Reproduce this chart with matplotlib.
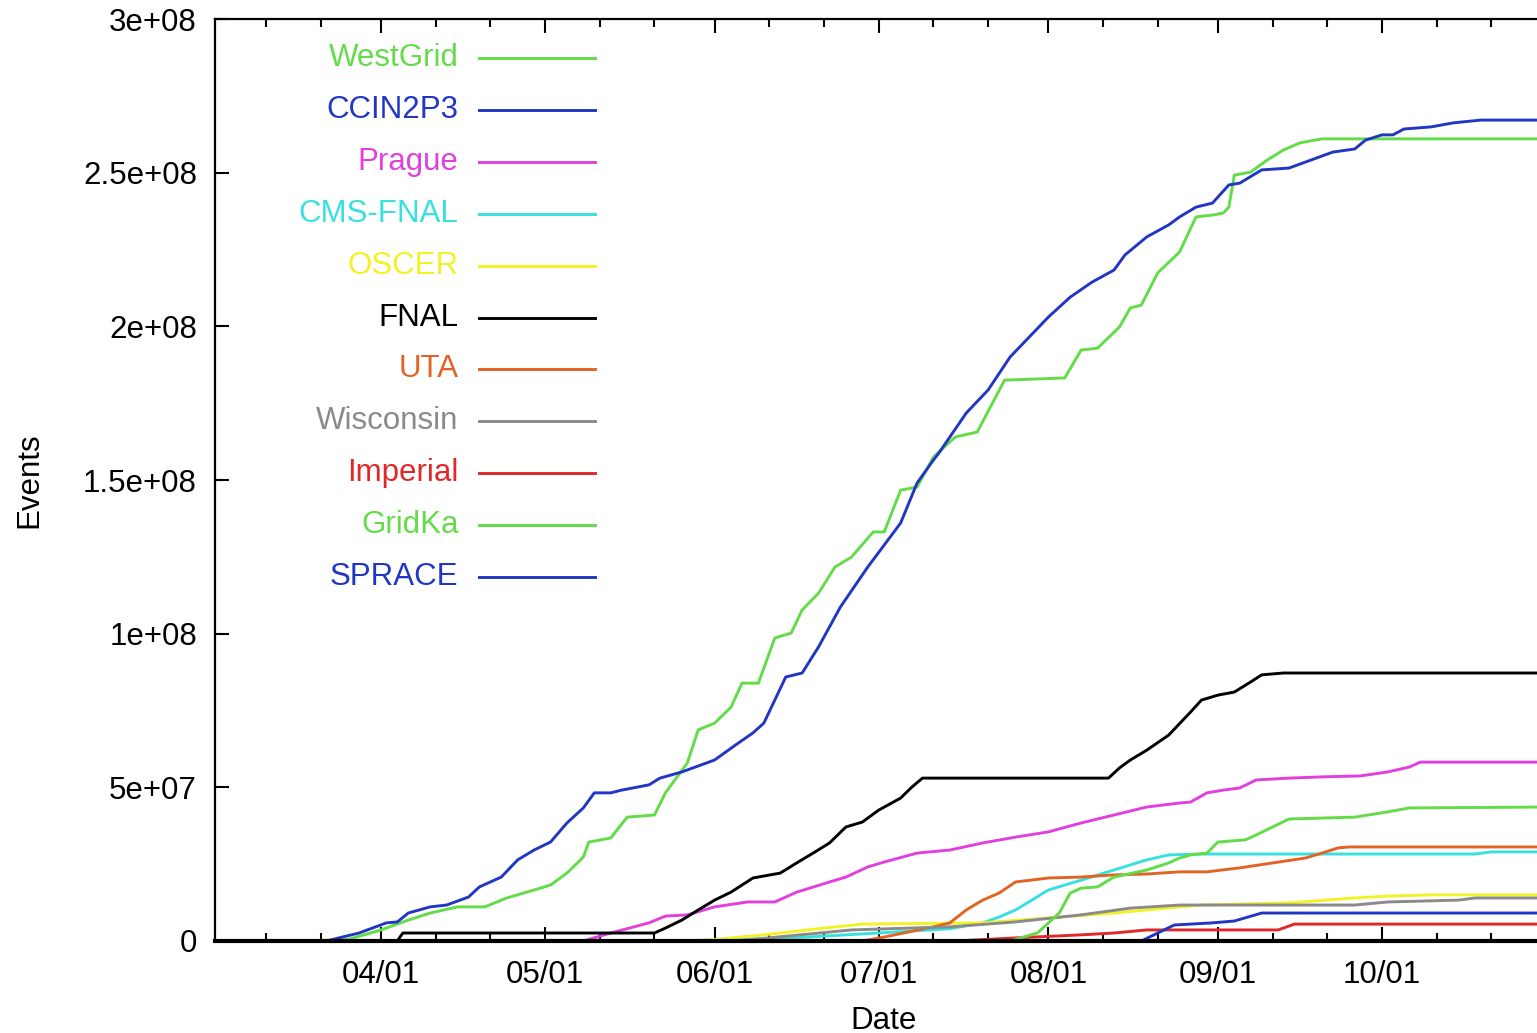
import matplotlib
matplotlib.use('Agg')
import matplotlib.pyplot as plt
import matplotlib.dates as mdates
import matplotlib.ticker as mticker
import numpy as np
import pandas as pd

plt.rcParams['font.family'] = ['Liberation Sans', 'DejaVu Sans']

# Cumulative events per site, in millions (year assumed 2007)
westgrid_dates = ['03-22', '03-26', '04-01', '04-06', '04-10', '04-15', '04-20', '04-24', '04-29',
                  '05-02', '05-05', '05-08', '05-09', '05-13', '05-16', '05-21', '05-23', '05-27',
                  '05-29', '06-01', '06-04', '06-06', '06-09', '06-12', '06-15', '06-17', '06-20',
                  '06-23', '06-26', '06-30', '07-02', '07-05', '07-08', '07-11', '07-15', '07-19',
                  '07-24', '08-04', '08-07', '08-10', '08-14', '08-16', '08-18', '08-21', '08-25',
                  '08-28', '08-31', '09-02', '09-03', '09-04', '09-07', '09-10', '09-13', '09-16',
                  '09-20', '11-01']
westgrid_vals = [0, 0.5, 3.6, 6.8, 9.1, 11.1, 11.1, 14.0, 16.6,
                 18.2, 22.1, 27.3, 32.2, 33.5, 40.3, 41.0, 48.2, 57.9,
                 68.7, 70.9, 76.1, 83.9, 83.9, 98.6, 100.2, 107.7, 113.2,
                 121.7, 124.9, 133.1, 133.1, 146.7, 147.7, 157.5, 164.0, 165.6,
                 182.5, 183.2, 192.3, 192.9, 199.8, 206.0, 206.9, 217.4, 224.2,
                 235.6, 236.2, 236.9, 238.8, 249.2, 250.2, 254.1, 257.4, 259.7,
                 261.0, 261.0]

ccin2p3_dates = ['03-22', '03-28', '04-02', '04-04', '04-06', '04-10', '04-13', '04-17', '04-19',
                 '04-23', '04-26', '04-29', '05-02', '05-05', '05-08', '05-10', '05-13', '05-15',
                 '05-20', '05-22', '05-26', '06-01', '06-05', '06-08', '06-10', '06-14', '06-17',
                 '06-20', '06-24', '06-29', '07-05', '07-08', '07-11', '07-12', '07-17', '07-21',
                 '07-25', '08-01', '08-05', '08-09', '08-13', '08-15', '08-19', '08-23', '08-25',
                 '08-28', '08-31', '09-03', '09-05', '09-09', '09-14', '09-18', '09-22', '09-26',
                 '09-28', '10-01', '10-03', '10-05', '10-10', '10-14', '10-19', '11-01']
ccin2p3_vals = [0, 2.6, 5.9, 6.2, 9.1, 11.1, 11.7, 14.3, 17.6,
                20.8, 26.4, 29.6, 32.2, 38.4, 43.3, 48.2, 48.2, 49.1,
                50.8, 53.0, 55.0, 58.9, 64.0, 67.7, 70.9, 85.9, 87.2,
                95.7, 108.7, 121.7, 136.0, 149.0, 156.5, 158.8, 171.8, 179.3,
                190.0, 203.0, 209.5, 214.4, 218.3, 223.2, 229.1, 233.0, 235.6,
                238.8, 240.1, 246.0, 246.6, 250.9, 251.5, 254.1, 256.7, 257.7,
                260.6, 262.3, 262.3, 264.2, 264.9, 266.2, 267.1, 267.1]

prague_dates = ['03-22', '05-08', '05-13', '05-20', '05-23', '05-27', '06-01', '06-07', '06-12',
                '06-16', '06-22', '06-25', '06-29', '07-02', '07-08', '07-14', '07-20', '07-26',
                '08-01', '08-07', '08-13', '08-19', '08-25', '08-27', '08-30', '09-02', '09-05',
                '09-08', '09-14', '09-20', '09-27', '10-02', '10-06', '10-08', '11-01']
prague_vals = [0, 0, 2.6, 5.9, 8.1, 8.5, 11.1, 12.7, 12.7,
               15.9, 19.2, 20.8, 24.1, 25.7, 28.6, 29.6, 31.9, 33.8,
               35.5, 38.4, 41.0, 43.6, 44.9, 45.2, 48.2, 49.1, 49.8,
               52.4, 53.0, 53.4, 53.7, 55.0, 56.6, 58.2, 58.2]

cmsfnal_dates = ['03-22', '05-25', '06-15', '07-01', '07-14', '07-20', '07-23', '07-26', '07-29',
                 '08-01', '08-04', '08-07', '08-13', '08-19', '08-23', '08-29', '10-18', '10-21',
                 '11-01']
cmsfnal_vals = [0, 0, 1.0, 2.6, 4.0, 5.9, 7.8, 10.1, 13.3,
                16.6, 18.2, 19.8, 23.1, 26.4, 28.0, 28.3, 28.3, 29.0,
                29.0]

oscer_dates = ['03-22', '05-29', '06-10', '06-20', '06-28', '07-20', '08-01', '08-13', '08-25',
               '08-29', '09-14', '09-26', '10-02', '10-10', '11-01']
oscer_vals = [0, 0, 2.0, 4.0, 5.5, 5.9, 7.5, 9.1, 11.1,
              11.7, 12.4, 14.0, 14.6, 15.0, 15.0]

fnal_dates = ['03-22', '04-04', '04-05', '05-21', '05-23', '05-26', '05-29', '06-01', '06-04',
              '06-08', '06-13', '06-16', '06-19', '06-22', '06-25', '06-28', '07-01', '07-05',
              '07-07', '07-09', '08-12', '08-14', '08-16', '08-19', '08-23', '08-27', '08-29',
              '09-01', '09-04', '09-07', '09-09', '09-13', '11-01']
fnal_vals = [0, 0, 2.6, 2.6, 4.2, 6.8, 10.1, 13.3, 15.9,
             20.5, 22.1, 25.4, 28.6, 31.9, 37.1, 38.7, 42.6, 46.5,
             50.0, 53.0, 53.0, 56.3, 58.9, 62.1, 67.0, 74.5, 78.4,
             80.0, 81.0, 84.3, 86.6, 87.2, 87.2]

uta_dates = ['03-22', '06-28', '07-02', '07-11', '07-14', '07-17', '07-20', '07-23', '07-26',
             '08-01', '08-07', '08-13', '08-19', '08-25', '08-30', '09-05', '09-11', '09-17',
             '09-20', '09-23', '09-25', '11-01']
uta_vals = [0, 0, 1.3, 4.6, 5.9, 10.1, 13.3, 15.6, 19.2,
            20.5, 20.8, 21.5, 21.8, 22.5, 22.5, 23.8, 25.4, 27.0,
            28.6, 30.3, 30.6, 30.6]

wisconsin_dates = ['03-22', '06-05', '06-26', '07-14', '07-26', '08-07', '08-16', '08-25', '09-26',
                   '10-02', '10-15', '10-18', '11-01']
wisconsin_vals = [0, 0, 3.6, 4.6, 6.2, 8.5, 10.7, 11.7, 11.7,
                  12.7, 13.3, 14.0, 14.0]

imperial_dates = ['03-22', '07-15', '07-26', '08-07', '08-13', '08-19', '09-12', '09-15', '11-01']
imperial_vals = [0, 0, 1.0, 2.0, 2.6, 3.6, 3.6, 5.5, 5.5]

gridka_dates = ['03-22', '07-25', '07-30', '08-03', '08-05', '08-07', '08-10', '08-13', '08-19',
                '08-23', '08-25', '08-27', '08-30', '09-01', '09-06', '09-08', '09-11', '09-14',
                '09-26', '10-02', '10-06', '11-01']
gridka_vals = [0, 0, 2.6, 9.1, 15.6, 17.2, 17.6, 20.8, 23.1,
               25.4, 27.0, 28.0, 28.6, 32.2, 32.9, 34.5, 37.1, 39.7,
               40.3, 42.0, 43.3, 43.6]

sprace_dates = ['03-22', '08-18', '08-21', '08-24', '08-31', '09-04', '09-09', '11-01']
sprace_vals = [0, 0, 2.6, 5.2, 5.9, 6.5, 9.1, 9.1]

site_names = ['WestGrid', 'CCIN2P3', 'Prague', 'CMS-FNAL', 'OSCER', 'FNAL',
              'UTA', 'Wisconsin', 'Imperial', 'GridKa', 'SPRACE']
site_dates = [westgrid_dates, ccin2p3_dates, prague_dates, cmsfnal_dates, oscer_dates, fnal_dates,
              uta_dates, wisconsin_dates, imperial_dates, gridka_dates, sprace_dates]
site_vals = [westgrid_vals, ccin2p3_vals, prague_vals, cmsfnal_vals, oscer_vals, fnal_vals,
             uta_vals, wisconsin_vals, imperial_vals, gridka_vals, sprace_vals]
site_colors = ['#62dc48', '#2236c4', '#e040dc', '#38e0e0', '#f2f226', '#000000',
               '#e26424', '#8a8a8a', '#e02828', '#62dc48', '#2236c4']

YEAR = '2007'
FS = 22.5

fig = plt.figure(figsize=(15.37, 10.33), dpi=100)
# right border sits just past the image edge, like the original
ax = fig.add_axes([215 / 1537, 92 / 1033, 1336.6 / 1537, 922 / 1033])

for name, dates, vals, col in zip(site_names, site_dates, site_vals, site_colors):
    x = pd.to_datetime([YEAR + '-' + d for d in dates])
    y = np.array(vals) * 1e6
    ax.plot(x, y, color=col, lw=2.1)

ax.set_xlim(pd.Timestamp(YEAR + '-03-01 16:00'), pd.Timestamp(YEAR + '-11-01'))
ax.set_ylim(0, 3e8)

ax.xaxis.set_major_locator(mdates.MonthLocator(bymonth=range(4, 11)))
ax.xaxis.set_minor_locator(mdates.DayLocator(bymonthday=[11, 21]))
ax.xaxis.set_major_formatter(mdates.DateFormatter('%m/%d'))
ax.yaxis.set_major_locator(mticker.MultipleLocator(5e7))
ax.yaxis.set_major_formatter(mticker.FuncFormatter(lambda v, p: '%g' % v))

ax.tick_params(which='both', direction='in', top=True, right=True, width=1.5,
               labelsize=FS, colors='black')
ax.tick_params(which='major', length=10)
ax.tick_params(which='minor', length=6)
ax.tick_params(axis='x', pad=14)
ax.tick_params(axis='y', pad=13)

for s in ['left', 'top', 'right']:
    ax.spines[s].set_linewidth(1.6)
ax.spines['bottom'].set_linewidth(3.0)

ax.set_xlabel('Date', fontsize=FS, labelpad=11)
ax.set_ylabel('Events', fontsize=FS, labelpad=28)

# gnuplot-style key: right-aligned label, sample line to its right
key_y0 = (941 - 58) / 922
key_step = 51.9 / 922
for i, (name, col) in enumerate(zip(site_names, site_colors)):
    ky = key_y0 - i * key_step
    ax.text(0.1822, ky, name, color=col, fontsize=FS, ha='right', va='center',
            transform=ax.transAxes)
    ax.plot([0.1973, 0.2846], [ky, ky], color=col, lw=2.1, transform=ax.transAxes)

fig.savefig('out.png', dpi=100)
